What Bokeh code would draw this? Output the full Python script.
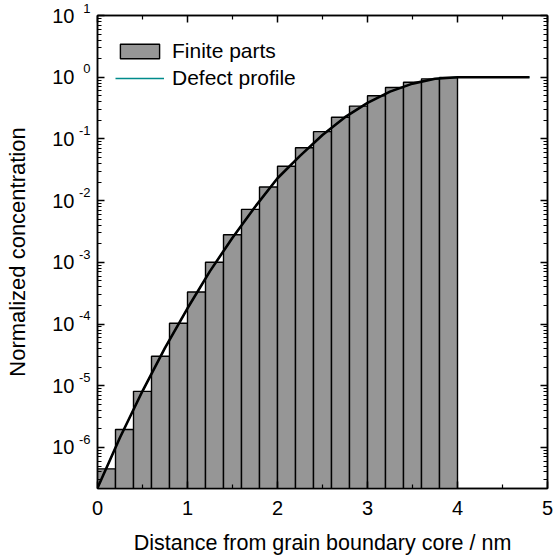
from bokeh.plotting import figure
from bokeh.models import (Range1d, LinearAxis, LogAxis, FixedTicker,
                          CustomJSTickFormatter, Legend, LegendItem)
from bokeh.embed import file_html
from bokeh.resources import INLINE

# ---------------- data ----------------
bar_left = [0.0, 0.2, 0.4, 0.6, 0.8, 1.0, 1.2, 1.4, 1.6, 1.8,
            2.0, 2.2, 2.4, 2.6, 2.8, 3.0, 3.2, 3.4, 3.6, 3.8]
bar_width = 0.2
bar_values = [4.5e-7, 1.95e-6, 8.1e-6, 3.0e-5, 1.03e-4, 3.3e-4, 1.0e-3, 2.8e-3, 7.2e-3, 1.66e-2,
              3.6e-2, 7.2e-2, 0.131, 0.224, 0.34, 0.50, 0.68, 0.83, 0.94, 0.99]

profile_x = [0.0, 0.25, 0.5, 0.75, 1.0, 1.25, 1.5, 1.75, 2.0, 2.25,
             2.5, 2.75, 3.0, 3.25, 3.5, 3.75, 4.0, 4.8]
profile_y = [2.2e-7, 1.45e-6, 8.2e-6, 4.1e-5, 1.8e-4, 7.2e-4, 2.5e-3, 7.9e-3, 0.023, 0.053,
             0.116, 0.225, 0.384, 0.584, 0.787, 0.942, 1.0, 1.0]

x_ticks = [0, 1, 2, 3, 4, 5]
y_tick_values = [1e-6, 1e-5, 1e-4, 1e-3, 1e-2, 1e-1, 1e0, 1e1]
y_tick_base = "10"
y_tick_exponents = ["-6", "-5", "-4", "-3", "-2", "-1", "0", "1"]
series_names = ["Finite parts", "Defect profile"]
x_label = "Distance from grain boundary core / nm"
y_label = "Normalized concentration"

FONT = "Liberation Sans"
BAR_FILL = "#969696"
LEGEND_LINE = "#008b8b"

p = figure(width=554, height=560, y_axis_type="log",
           x_range=Range1d(0, 5), y_range=Range1d(2.16e-7, 10),
           output_backend="svg", toolbar_location=None,
           min_border_left=97, min_border_right=7, min_border_top=15, min_border_bottom=72)
p.xgrid.visible = False
p.ygrid.visible = False
p.outline_line_color = "black"
p.outline_line_width = 1.5
p.background_fill_color = "white"
p.border_fill_color = "white"

bars = p.quad(left=bar_left, right=[b + bar_width for b in bar_left],
              bottom=1e-9, top=bar_values,
              fill_color=BAR_FILL, line_color="black", line_width=1.4)
legend_line = p.line(profile_x, profile_y, line_color=LEGEND_LINE, line_width=1.5)
curve = p.line(profile_x, profile_y, line_color="black", line_width=2.6)

# ticks
minor_y = [m * d for d in [1e-7] + y_tick_values[:-1] for m in range(2, 10)]
yticker = FixedTicker(ticks=y_tick_values, minor_ticks=minor_y)
xticker = FixedTicker(ticks=x_ticks, minor_ticks=[t + 0.5 for t in x_ticks[:-1]])
empty = CustomJSTickFormatter(code="return ''")

def style_axis(ax):
    ax.axis_line_color = "black"
    ax.axis_line_width = 1.5
    ax.major_tick_line_color = "black"
    ax.minor_tick_line_color = "black"
    ax.major_tick_line_width = 1.5
    ax.minor_tick_line_width = 1.2
    ax.major_tick_in = 7
    ax.major_tick_out = 0
    ax.minor_tick_in = 4
    ax.minor_tick_out = 0

xa = p.xaxis[0]
xa.ticker = xticker
style_axis(xa)
xa.major_label_text_font = FONT
xa.major_label_text_font_size = "20px"
xa.major_label_text_color = "black"
xa.major_label_standoff = 12
xa.axis_label = x_label
xa.axis_label_text_font = FONT
xa.axis_label_text_font_size = "21.5px"
xa.axis_label_text_font_style = "normal"
xa.axis_label_text_color = "black"
xa.axis_label_standoff = 13

ya = p.yaxis[0]
ya.ticker = yticker
ya.formatter = empty
style_axis(ya)
ya.major_label_standoff = 0

# exponent labels: small text, raised by an empty second line
label_ticker = FixedTicker(ticks=y_tick_values, minor_ticks=[])
exp_fmt = CustomJSTickFormatter(
    args=dict(vals=y_tick_values, exps=y_tick_exponents),
    code="""
    const lt = Math.log10(tick);
    for (let i = 0; i < vals.length; i++) {
        if (Math.abs(Math.log10(vals[i]) - lt) < 0.01) return exps[i] + '\\n\\u00a0';
    }
    return '';
    """)
exp_axis = LogAxis(ticker=label_ticker, formatter=exp_fmt,
                   axis_line_color=None, major_tick_line_color=None, minor_tick_line_color=None,
                   major_tick_in=0, major_tick_out=0, minor_tick_in=0, minor_tick_out=0,
                   major_label_standoff=7, major_label_text_font=FONT,
                   major_label_text_font_size="13px", major_label_text_color="black",
                   major_label_text_line_height=1.1)
p.add_layout(exp_axis, "left")

base_fmt = CustomJSTickFormatter(args=dict(base=y_tick_base), code="return base")
base_axis = LogAxis(ticker=label_ticker, formatter=base_fmt,
                    axis_line_color=None, major_tick_line_color=None, minor_tick_line_color=None,
                    major_tick_in=0, major_tick_out=0, minor_tick_in=0, minor_tick_out=0,
                    major_label_standoff=1, major_label_text_font=FONT,
                    major_label_text_font_size="20px", major_label_text_color="black",
                    axis_label=y_label, axis_label_text_font=FONT,
                    axis_label_text_font_size="22px", axis_label_text_font_style="normal",
                    axis_label_text_color="black", axis_label_standoff=19)
p.add_layout(base_axis, "left")

top_ax = LinearAxis(ticker=xticker, formatter=empty, major_label_standoff=0)
style_axis(top_ax)
p.add_layout(top_ax, "above")
right_ax = LogAxis(ticker=yticker, formatter=empty, major_label_standoff=0)
style_axis(right_ax)
p.add_layout(right_ax, "right")

legend = Legend(items=[LegendItem(label=series_names[0], renderers=[bars]),
                       LegendItem(label=series_names[1], renderers=[legend_line])],
                location=(18, 398), padding=0, margin=0, spacing=3,
                glyph_width=49, glyph_height=18, label_height=18, label_standoff=8,
                label_text_font=FONT, label_text_font_size="21px", label_text_color="black",
                border_line_color=None, background_fill_alpha=0)
p.add_layout(legend)

open("out.html", "w").write(file_html(p, INLINE))
